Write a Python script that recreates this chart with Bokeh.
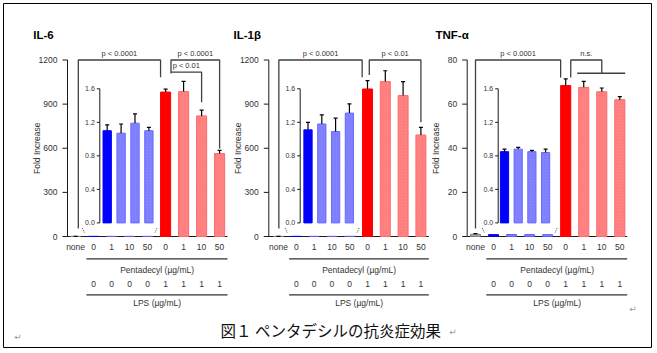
import math
from bokeh.plotting import figure
from bokeh.models import Range1d
from bokeh.embed import file_html
from bokeh.resources import INLINE
from bokeh.core.properties import value

# ---------------- data ----------------
titles = ["IL-6", "IL-1β", "TNF-α"]
x_labels = ["none", "0", "1", "10", "50", "0", "1", "10", "50"]
lps_row = ["0", "0", "0", "0", "1", "1", "1", "1"]
y_max = [1200, 1200, 80]
y_ticks = [[0, 300, 600, 900, 1200], [0, 300, 600, 900, 1200], [0, 20, 40, 60, 80]]
inset_ticks = [0.0, 0.4, 0.8, 1.2, 1.6]
inset_max = 1.6

none_val = [1.0, 1.0, 1.0]
none_err = [0.05, 0.05, 0.3]
nolps_val = [[1.10, 1.07, 1.19, 1.10], [1.11, 1.18, 1.09, 1.31], [0.85, 0.88, 0.85, 0.84]]
nolps_err = [[0.07, 0.11, 0.11, 0.04], [0.09, 0.11, 0.16, 0.11], [0.03, 0.02, 0.015, 0.04]]
lps_val = [[982, 985, 820, 564], [1003, 1053, 958, 690], [68.4, 67.6, 65.6, 62.0]]
lps_err = [[20, 70, 39, 22], [57, 74, 95, 52], [3.0, 2.7, 1.7, 1.4]]

# significance brackets: (x_left, x_right, y_top, y_left_end, y_right_end, label)
brackets = [
    [(0.15, 4.72, 1200, 54, 1083, "p < 0.0001"),
     (5.3, 8.0, 1200, 1108, 598, "p < 0.0001"),
     (5.3, 7.0, 1117, 1117, 913, "p < 0.01")],
    [(0.02, 4.7, 1200, 54, 1082, "p < 0.0001"),
     (5.1, 8.0, 1200, 1098, 776, "p < 0.01")],
    [(0.0, 4.72, 80, 3.6, 72.1, "p < 0.0001"),
     (5.28, 7.0, 80, 72.1, 74.0, "n.s.")],
]
group_lines = [[], [], [(5.64, 8.3, 74.0)]]

x_row_label = "Pentadecyl (µg/mL)"
lps_label = "LPS (µg/mL)"
caption = "図１ ペンタデシルの抗炎症効果"

# ---------------- layout constants (page pixels) ----------------
W, H = 657, 353
FX0, FX1, FY0, FY1 = 3, 651, 3, 347
none_px = [75.1, 278.0, 475.0]
cat_step = [18.0, 17.8, 18.04]
axis_px = [67.0, 268.3, 466.7]
axis_len = 160.0
Y0_PX, YTOP_PX = 236.0, 59.5
inset_px = [106.7, 307.5, 504.0]
inset_step = [13.9, 13.8, 13.7]
inset_axis_px = [99.3, 299.7, 497.7]
IY0_PX, IYTOP_PX = 222.4, 88.3
title_px = [32.7, 233.0, 435.0]
ROW_TICK, ROW_LINE1, ROW_PENT, ROW_LPS, ROW_LINE2, ROW_LPSLAB = 246.7, 258.3, 269.0, 283.3, 294.3, 302.7

FONT = "Liberation Sans"
TXT = "#333333"
AX = "#1a1a1a"
BR = "#404040"

BLUE, BLUE_L = "#0000ff", "#8585ff"
RED, RED_L = "#ff0000", "#ff8585"
GRAY = "#a6a6a6"

p = figure(width=W, height=H, x_range=Range1d(FX0, FX1), y_range=Range1d(FY1, FY0),
           min_border_left=FX0, min_border_right=W - FX1, min_border_top=FY0,
           min_border_bottom=H - FY1, toolbar_location=None, output_backend="svg",
           x_axis_type=None, y_axis_type=None, title=None)
p.outline_line_color = "black"
p.outline_line_width = 1
p.background_fill_color = "white"
p.border_fill_color = "white"

xr_d, yr_d = {}, {}
for k in range(3):
    s = cat_step[k]
    xr_d[f"x{k}"] = Range1d((FX0 - none_px[k]) / s, (FX1 - none_px[k]) / s)
    ys = (Y0_PX - YTOP_PX) / y_max[k]
    yr_d[f"y{k}"] = Range1d((Y0_PX - FY1) / ys, (Y0_PX - FY0) / ys)
    si = inset_step[k]
    xr_d[f"ix{k}"] = Range1d((FX0 - inset_px[k]) / si, (FX1 - inset_px[k]) / si)
    iys = (IY0_PX - IYTOP_PX) / inset_max
    yr_d[f"iy{k}"] = Range1d((IY0_PX - FY1) / iys, (IY0_PX - FY0) / iys)
p.extra_x_ranges = xr_d
p.extra_y_ranges = yr_d


def err_bars(xs, tops, errs, half, xr, yr):
    p.segment(x0=xs, y0=tops, x1=xs, y1=[t + e for t, e in zip(tops, errs)],
              x_range_name=xr, y_range_name=yr, line_color="black", line_width=1.2)
    p.segment(x0=[x - half for x in xs], y0=[t + e for t, e in zip(tops, errs)],
              x1=[x + half for x in xs], y1=[t + e for t, e in zip(tops, errs)],
              x_range_name=xr, y_range_name=yr, line_color="black", line_width=1.2)


for k in range(3):
    xr, yr, ixr, iyr = f"x{k}", f"y{k}", f"ix{k}", f"iy{k}"
    s = cat_step[k]
    si = inset_step[k]
    xa = (axis_px[k] - none_px[k]) / s
    ym = y_max[k]

    # title
    p.text(x=[title_px[k]], y=[34.5], text=[titles[k]], text_font=value(FONT),
           text_font_size="11.5px", text_font_style="bold", text_color="black",
           text_align="left", text_baseline="middle")

    # main y axis
    p.segment(x0=[xa], y0=[0], x1=[xa], y1=[ym], x_range_name=xr, y_range_name=yr,
              line_color=AX, line_width=1)
    tk = y_ticks[k]
    p.segment(x0=[xa - 5 / s] * len(tk), y0=tk, x1=[xa] * len(tk), y1=tk,
              x_range_name=xr, y_range_name=yr, line_color=AX, line_width=1)
    p.text(x=[xa] * len(tk), y=tk, text=[str(t) for t in tk], x_offset=-10,
           x_range_name=xr, y_range_name=yr, text_font=value(FONT), text_font_size="8.5px",
           text_color=TXT, text_align="right", text_baseline="middle")
    p.text(x=[xa - 31 / s], y=[ym / 2], text=["Fold Increase"], angle=math.pi / 2,
           x_range_name=xr, y_range_name=yr, text_font=value(FONT), text_font_size="8.5px",
           text_color=TXT, text_align="center", text_baseline="middle")
    # main x axis
    p.segment(x0=[xa], y0=[0], x1=[xa + axis_len / s], y1=[0], x_range_name=xr,
              y_range_name=yr, line_color=AX, line_width=1)

    # tiny bars on the main scale (none + no LPS)
    small_top = [none_val[k]] + nolps_val[k]
    small_col = [GRAY, BLUE, BLUE_L, BLUE_L, BLUE_L]
    small_line = ["#808080", BLUE, "#5a5aff", "#5a5aff", "#5a5aff"]
    p.vbar(x=list(range(5)), top=small_top, bottom=0, width=0.55, fill_color=small_col,
           line_color=small_line, line_width=1, x_range_name=xr, y_range_name=yr)
    err_bars([0], [none_val[k]], [none_err[k]], 2 / s, xr, yr)

    # LPS bars
    p.vbar(x=[5], top=[lps_val[k][0]], bottom=0, width=0.56, fill_color=RED,
           line_color=RED, x_range_name=xr, y_range_name=yr)
    p.vbar(x=[6, 7, 8], top=lps_val[k][1:], bottom=0, width=0.56, fill_color=RED_L,
           line_color="#ff6a6a", hatch_pattern="x", hatch_color="#ff5c5c", hatch_alpha=0.35,
           hatch_scale=3, hatch_weight=0.6, x_range_name=xr, y_range_name=yr)
    err_bars([5, 6, 7, 8], lps_val[k], lps_err[k], 2 / s, xr, yr)

    # inset axis
    ia = (inset_axis_px[k] - inset_px[k]) / si
    p.segment(x0=[ia], y0=[0], x1=[ia], y1=[inset_max], x_range_name=ixr, y_range_name=iyr,
              line_color=AX, line_width=1)
    it = inset_ticks
    p.segment(x0=[ia - 3 / si] * len(it), y0=it, x1=[ia] * len(it), y1=it,
              x_range_name=ixr, y_range_name=iyr, line_color=AX, line_width=1)
    p.text(x=[ia] * len(it), y=it, text=[f"{t:.1f}" for t in it], x_offset=-5,
           x_range_name=ixr, y_range_name=iyr, text_font=value(FONT), text_font_size="7px",
           text_color=TXT, text_align="right", text_baseline="middle")
    # inset bars
    p.vbar(x=[0], top=[nolps_val[k][0]], bottom=0, width=0.6, fill_color=BLUE,
           line_color=BLUE, x_range_name=ixr, y_range_name=iyr)
    p.vbar(x=[1, 2, 3], top=nolps_val[k][1:], bottom=0, width=0.6, fill_color=BLUE_L,
           line_color="#6a6aff", hatch_pattern="x", hatch_color="#5c5cff", hatch_alpha=0.35,
           hatch_scale=3, hatch_weight=0.6, x_range_name=ixr, y_range_name=iyr)
    err_bars([0, 1, 2, 3], nolps_val[k], nolps_err[k], 2 / si, ixr, iyr)

    # zoom break marks
    p.segment(x0=[0.37, 4.53], y0=[227.5, 227.5], x1=[0.5, 4.4], y1=[232.5, 232.5],
              x_range_name=xr, line_color="#555555", line_width=1, line_dash="1 1")

    # significance brackets
    xs, ys = [], []
    for (x0, x1, top, y0, y1, lab) in brackets[k]:
        xs.append([x0, x0, x1, x1])
        ys.append([y0, top, top, y1])
    for (x0, x1, yy) in group_lines[k]:
        xs.append([x0, x1])
        ys.append([yy, yy])
    p.multi_line(xs=xs, ys=ys, x_range_name=xr, y_range_name=yr, line_color=BR,
                 line_width=1.3)
    p.text(x=[(b[0] + b[1]) / 2 for b in brackets[k]], y=[b[2] for b in brackets[k]],
           text=[b[5] for b in brackets[k]], y_offset=-7, x_range_name=xr, y_range_name=yr,
           text_font=value(FONT), text_font_size="7.5px", text_color=TXT,
           text_align="center", text_baseline="middle")

    # category rows below the axis
    p.text(x=list(range(9)), y=[ROW_TICK] * 9, text=x_labels, x_range_name=xr,
           text_font=value(FONT), text_font_size="8.5px", text_color=TXT,
           text_align="center", text_baseline="middle")
    p.segment(x0=[0.6, 0.6], y0=[ROW_LINE1, ROW_LINE2], x1=[xa + axis_len / s] * 2,
              y1=[ROW_LINE1, ROW_LINE2], x_range_name=xr, line_color="#303030", line_width=1.3)
    p.text(x=[4.53], y=[ROW_PENT], text=[x_row_label], x_range_name=xr,
           text_font=value(FONT), text_font_size="8.5px", text_color=TXT,
           text_align="center", text_baseline="middle")
    p.text(x=list(range(1, 9)), y=[ROW_LPS] * 8, text=lps_row, x_range_name=xr,
           text_font=value(FONT), text_font_size="8.5px", text_color=TXT,
           text_align="center", text_baseline="middle")
    p.text(x=[4.53], y=[ROW_LPSLAB], text=[lps_label], x_range_name=xr,
           text_font=value(FONT), text_font_size="8.5px", text_color=TXT,
           text_align="center", text_baseline="middle")

# caption and paragraph marks
p.text(x=[220], y=[329.5], text=[caption], text_font=value("Noto Sans CJK JP"),
       text_font_size="15.5px", text_color="#111111", text_align="left",
       text_baseline="middle")
p.text(x=[452.5, 17.5, 632.5], y=[331.5, 336.5, 308.5], text=["↵", "↵", "↵"],
       text_font=value("DejaVu Sans"), text_font_size="9px", text_color="#999999",
       text_align="center", text_baseline="middle")

open("out.html", "w").write(file_html(p, INLINE))
